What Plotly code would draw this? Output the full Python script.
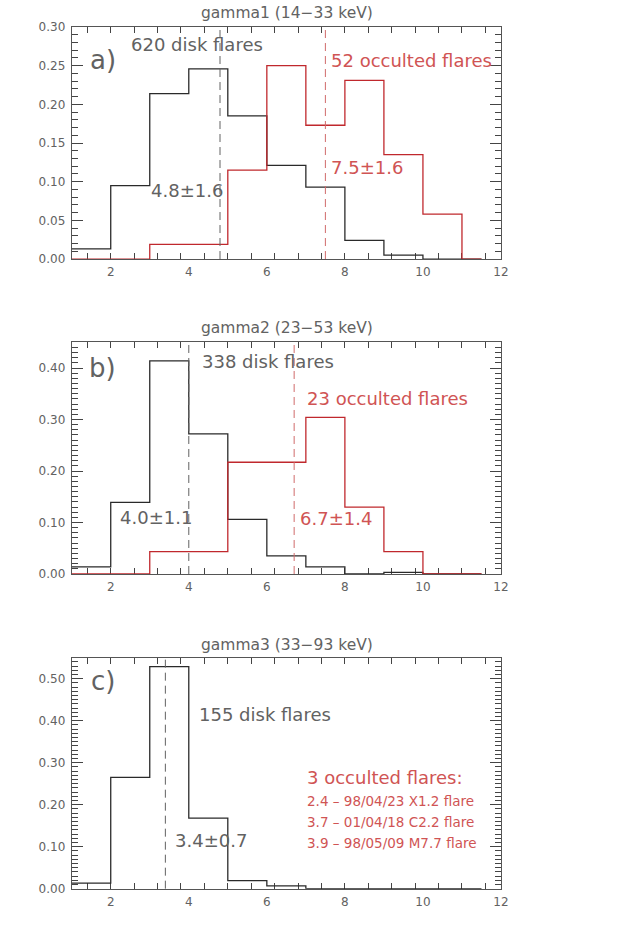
import plotly.graph_objects as go

# ---------------- data ----------------
bin_edges = [1, 2, 3, 4, 5, 6, 7, 8, 9, 10, 11]
last_edge = 11.5

gamma1_disk = [0.013, 0.095, 0.214, 0.246, 0.185, 0.121, 0.093, 0.024, 0.005, 0.0, 0.0]
gamma1_occ = [0.0, 0.0, 0.019, 0.019, 0.115, 0.250, 0.173, 0.231, 0.135, 0.058, 0.0]
gamma2_disk = [0.014, 0.139, 0.414, 0.272, 0.106, 0.035, 0.014, 0.0, 0.003, 0.0, 0.0]
gamma2_occ = [0.0, 0.0, 0.0435, 0.0435, 0.217, 0.217, 0.304, 0.130, 0.0435, 0.0, 0.0]
gamma3_disk = [0.013, 0.265, 0.529, 0.168, 0.019, 0.0065, 0.0, 0.0, 0.0, 0.0, 0.0]

mean_disk = [4.8, 4.0, 3.4]
mean_occ = [7.5, 6.7, None]

titles = ["gamma1 (14\u221233 keV)", "gamma2 (23\u221253 keV)", "gamma3 (33\u221293 keV)"]
panel_labels = ["a)", "b)", "c)"]
disk_labels = ["620 disk flares", "338 disk flares", "155 disk flares"]
occ_labels = ["52 occulted flares", "23 occulted flares", "3 occulted flares:"]
disk_stats = ["4.8\u00b11.6", "4.0\u00b11.1", "3.4\u00b10.7"]
occ_stats = ["7.5\u00b11.6", "6.7\u00b11.4", None]
occ_list = ["2.4 \u2013 98/04/23 X1.2 flare",
            "3.7 \u2013 01/04/18 C2.2 flare",
            "3.9 \u2013 98/05/09 M7.7 flare"]

y_max = [0.30, 0.45, 0.55]
y_dtick = [0.05, 0.1, 0.1]
x_range = [1, 12]
x_ticks = [2, 4, 6, 8, 10, 12]

# ---------------- style ----------------
FONT = "DejaVu Sans"
BLACK = "#2a2a2a"
GRAY = "#626262"
RED = "#c0282d"
RED_TXT = "#d05454"
AXIS = "#555555"
TICK = "#444444"

x_dom = [0.1131, 0.7902]
y_doms = [[0.7259, 0.9714], [0.3926, 0.6378], [0.0596, 0.3040]]

fig = go.Figure()


def step(vals):
    return bin_edges + [last_edge], vals + [vals[-1]]


disk_series = [gamma1_disk, gamma2_disk, gamma3_disk]
occ_series = [gamma1_occ, gamma2_occ, None]

tickfont = dict(family=FONT, size=12, color=GRAY)

for i in range(3):
    xa = "x" if i == 0 else f"x{i+1}"
    ya = "y" if i == 0 else f"y{i+1}"
    xs, ys = step(disk_series[i])
    fig.add_trace(go.Scatter(x=xs, y=ys, mode="lines", line_shape="hv",
                             line=dict(color=BLACK, width=1.3),
                             xaxis=xa, yaxis=ya, showlegend=False, cliponaxis=False))
    if occ_series[i] is not None:
        xs, ys = step(occ_series[i])
        fig.add_trace(go.Scatter(x=xs, y=ys, mode="lines", line_shape="hv",
                                 line=dict(color=RED, width=1.3),
                                 xaxis=xa, yaxis=ya, showlegend=False, cliponaxis=False))

    xkey = "xaxis" if i == 0 else f"xaxis{i+1}"
    ykey = "yaxis" if i == 0 else f"yaxis{i+1}"
    xminor = dict(ticks="inside", ticklen=6, tickwidth=1, dtick=0.6, tick0=2,
                  tickcolor=TICK, showgrid=False)
    yminor = dict(ticks="inside", ticklen=6, tickwidth=1, dtick=0.01, tick0=0,
                  tickcolor=TICK, showgrid=False)
    fig.layout[xkey] = dict(
        domain=x_dom, anchor=ya, range=x_range, tickvals=x_ticks,
        ticks="inside", ticklen=0, showline=True, linecolor=AXIS, linewidth=1,
        mirror="ticks", showgrid=False, zeroline=False, layer="below traces",
        tickfont=tickfont, ticklabelstandoff=2, automargin=False, minor=xminor,
    )
    fig.layout[ykey] = dict(
        domain=y_doms[i], anchor=xa, range=[0, y_max[i]], dtick=y_dtick[i], tick0=0,
        tickformat=".2f", ticks="inside", ticklen=11, tickwidth=1, tickcolor=TICK,
        showline=True, linecolor=AXIS, linewidth=1, mirror="ticks",
        showgrid=False, zeroline=False, layer="below traces",
        tickfont=tickfont, ticklabelstandoff=3, automargin=False, minor=yminor,
    )

    # dashed mean lines
    fig.add_shape(type="line", xref=xa, yref=f"{ya} domain", x0=mean_disk[i], x1=mean_disk[i],
                  y0=0, y1=1, line=dict(color=GRAY, width=1, dash="8px,5px"))
    if mean_occ[i] is not None:
        fig.add_shape(type="line", xref=xa, yref=f"{ya} domain", x0=mean_occ[i], x1=mean_occ[i],
                      y0=0, y1=1, line=dict(color="#d06a6a", width=1, dash="8px,5px"))

    # title
    fig.add_annotation(text=titles[i], xref="paper", yref="paper", x=0.452,
                       y=[0.9859, 0.6526, 0.3175][i], xanchor="center", yanchor="middle",
                       showarrow=False, font=dict(family=FONT, size=15.5, color=GRAY))


def ann(i, text, x, y, size=18, color=GRAY, xanchor="left"):
    xa = "x" if i == 0 else f"x{i+1}"
    ya = "y" if i == 0 else f"y{i+1}"
    fig.add_annotation(text=text, xref=xa, yref=ya, x=x, y=y, xanchor=xanchor,
                       yanchor="middle", showarrow=False,
                       font=dict(family=FONT, size=size, color=color))


# panel a
ann(0, panel_labels[0], 1.80, 0.258, size=26, xanchor="center")
ann(0, disk_labels[0], 2.48, 0.278)
ann(0, occ_labels[0], 7.59, 0.257, color=RED_TXT)
ann(0, disk_stats[0], 2.99, 0.088)
ann(0, occ_stats[0], 7.59, 0.118, color=RED_TXT)
# panel b
ann(1, panel_labels[1], 1.80, 0.400, size=26, xanchor="center")
ann(1, disk_labels[1], 4.28, 0.412)
ann(1, occ_labels[1], 6.99, 0.341, color=RED_TXT)
ann(1, disk_stats[1], 2.18, 0.110)
ann(1, occ_stats[1], 6.79, 0.108, color=RED_TXT)
# panel c
ann(2, panel_labels[2], 1.80, 0.494, size=26, xanchor="center")
ann(2, disk_labels[2], 4.21, 0.415)
ann(2, disk_stats[2], 3.59, 0.114)
ann(2, occ_labels[2], 6.97, 0.265, color=RED_TXT)
for txt, yy in zip(occ_list, [0.209, 0.159, 0.1095]):
    ann(2, txt, 6.97, yy, size=13.5, color=RED_TXT)

fig.update_layout(width=634, height=945, margin=dict(l=0, r=0, t=0, b=0, pad=0),
                  paper_bgcolor="white", plot_bgcolor="white", showlegend=False,
                  template="none")

fig.write_html("out.html",
               config={"displayModeBar": False},
               post_script="document.documentElement.style.margin='0';"
                           "document.body.style.margin='0';"
                           "document.body.style.overflow='hidden';")
